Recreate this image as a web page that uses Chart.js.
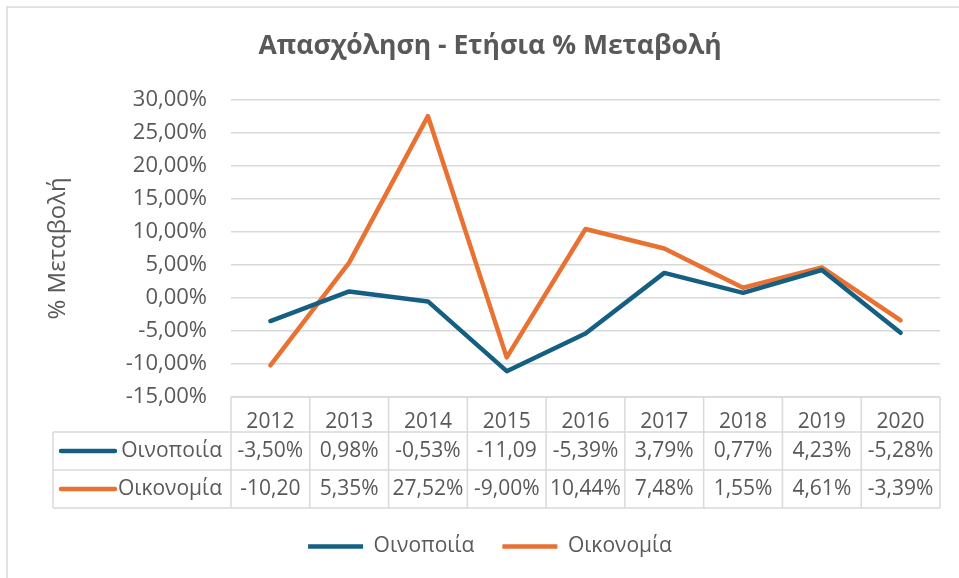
<!DOCTYPE html>
<html>
<head>
<meta charset="utf-8">
<script src="https://cdn.jsdelivr.net/npm/chart.js@4/dist/chart.umd.min.js"></script>
<style>
  html, body { margin: 0; padding: 0; background: #ffffff; }
  #wrap { position: relative; width: 959px; height: 578px; }
</style>
</head>
<body>
<div id="wrap"><canvas id="c" width="959" height="578"></canvas></div>
<script>
// ---- data ----
const chartTitle = 'Απασχόληση - Ετήσια % Μεταβολή';
const yAxisTitle = '% Μεταβολή';
const years = ['2012', '2013', '2014', '2015', '2016', '2017', '2018', '2019', '2020'];
const seriesNames = ['Οινοποιία', 'Οικονομία'];
const wineValues = [-3.50, 0.98, -0.53, -11.09, -5.39, 3.79, 0.77, 4.23, -5.28];
const economyValues = [-10.20, 5.35, 27.52, -9.00, 10.44, 7.48, 1.55, 4.61, -3.39];
const yMin = -15;
const yMax = 30;
const yStep = 5;

// ---- style ----
const FONT = "'Open Sans', 'Noto Sans', sans-serif";
const TEXT = '#595959';
const GRID = '#d9d9d9';
const COLORS = ['#156082', '#E97132'];
const LINE_W = 4.5;

function fmtPct(v) {
  return v.toFixed(2).replace('.', ',') + '%';
}

const tablePlugin = {
  id: 'dataTable',
  beforeDraw(chart) {
    const ctx = chart.ctx;
    ctx.save();
    ctx.fillStyle = '#ffffff';
    ctx.fillRect(0, 0, chart.width, chart.height);
    ctx.strokeStyle = GRID;
    ctx.lineWidth = 1.5;
    ctx.strokeRect(7, 7, chart.width + 50, chart.height + 50);
    ctx.restore();
  },
  afterDraw(chart) {
    const ctx = chart.ctx;
    const area = chart.chartArea;
    const xs = chart.scales.x;
    const n = years.length;
    const colW = (area.right - area.left) / n;
    const top = area.bottom;
    const rowY = [top, top + 35, top + 73, top + 111];
    const tableLeft = 53;

    ctx.save();
    ctx.strokeStyle = GRID;
    ctx.lineWidth = 1.5;
    ctx.beginPath();
    ctx.moveTo(area.left, rowY[0]); ctx.lineTo(area.right, rowY[0]);
    for (let r = 1; r < 4; r++) {
      ctx.moveTo(tableLeft, rowY[r]); ctx.lineTo(area.right, rowY[r]);
    }
    for (let k = 0; k <= n; k++) {
      const x = area.left + k * colW;
      ctx.moveTo(x, rowY[0]); ctx.lineTo(x, rowY[3]);
    }
    ctx.moveTo(tableLeft, rowY[1]); ctx.lineTo(tableLeft, rowY[3]);
    ctx.stroke();

    ctx.font = '21px ' + FONT;
    ctx.fillStyle = TEXT;
    ctx.textBaseline = 'middle';
    chart.data.datasets.forEach((ds, s) => {
      const yc = (rowY[s + 1] + rowY[s + 2]) / 2;
      // legend key
      ctx.strokeStyle = ds.borderColor;
      ctx.lineWidth = LINE_W;
      ctx.lineCap = 'round';
      ctx.beginPath();
      ctx.moveTo(tableLeft + 8, yc); ctx.lineTo(tableLeft + 62, yc);
      ctx.stroke();
      ctx.textAlign = 'right';
      ctx.fillText(ds.label, area.left - 9, yc);
      ctx.textAlign = 'center';
      ds.data.forEach((v, i) => {
        let t = fmtPct(v);
        while (t.length > 1 && ctx.measureText(t).width > colW - 4) t = t.slice(0, -1);
        ctx.fillText(t, xs.getPixelForValue(i), yc);
      });
    });
    ctx.restore();
  }
};

new Chart(document.getElementById('c'), {
  type: 'line',
  data: {
    labels: years,
    datasets: [
      { label: seriesNames[0], data: wineValues, borderColor: COLORS[0], backgroundColor: COLORS[0],
        borderWidth: LINE_W, pointRadius: 0, pointHoverRadius: 0, tension: 0, borderCapStyle: 'round', borderJoinStyle: 'round' },
      { label: seriesNames[1], data: economyValues, borderColor: COLORS[1], backgroundColor: COLORS[1],
        borderWidth: LINE_W, pointRadius: 0, pointHoverRadius: 0, tension: 0, borderCapStyle: 'round', borderJoinStyle: 'round' }
    ]
  },
  options: {
    responsive: false,
    devicePixelRatio: 1,
    animation: false,
    layout: { padding: { left: 40, right: 19, top: 0, bottom: 11 } },
    plugins: {
      title: {
        display: true,
        text: chartTitle,
        color: TEXT,
        font: { family: FONT, size: 26.5, weight: 'bold' },
        padding: { top: 31, bottom: 37 }
      },
      legend: {
        position: 'bottom',
        labels: {
          usePointStyle: true,
          pointStyle: 'line',
          pointStyleWidth: 55,
          boxHeight: 21,
          padding: 28,
          color: TEXT,
          font: { family: FONT, size: 21 }
        }
      },
      tooltip: { enabled: false }
    },
    scales: {
      x: {
        offset: true,
        grid: { display: false },
        border: { display: false },
        ticks: { color: TEXT, font: { family: FONT, size: 21 }, padding: 4, maxRotation: 0, autoSkip: false },
        afterFit(s) { s.height = 111; }
      },
      y: {
        min: yMin,
        max: yMax,
        grid: { color: GRID, lineWidth: 1.5, drawTicks: false },
        border: { display: false },
        ticks: { stepSize: yStep, color: TEXT, font: { family: FONT, size: 22 }, padding: 24,
          callback: (v) => fmtPct(v) },
        title: { display: true, text: yAxisTitle, color: TEXT, font: { family: FONT, size: 24 }, padding: { top: 4, bottom: 0 } },
        afterFit(s) { s.width = 191; }
      }
    }
  },
  plugins: [tablePlugin]
});
</script>
</body>
</html>
